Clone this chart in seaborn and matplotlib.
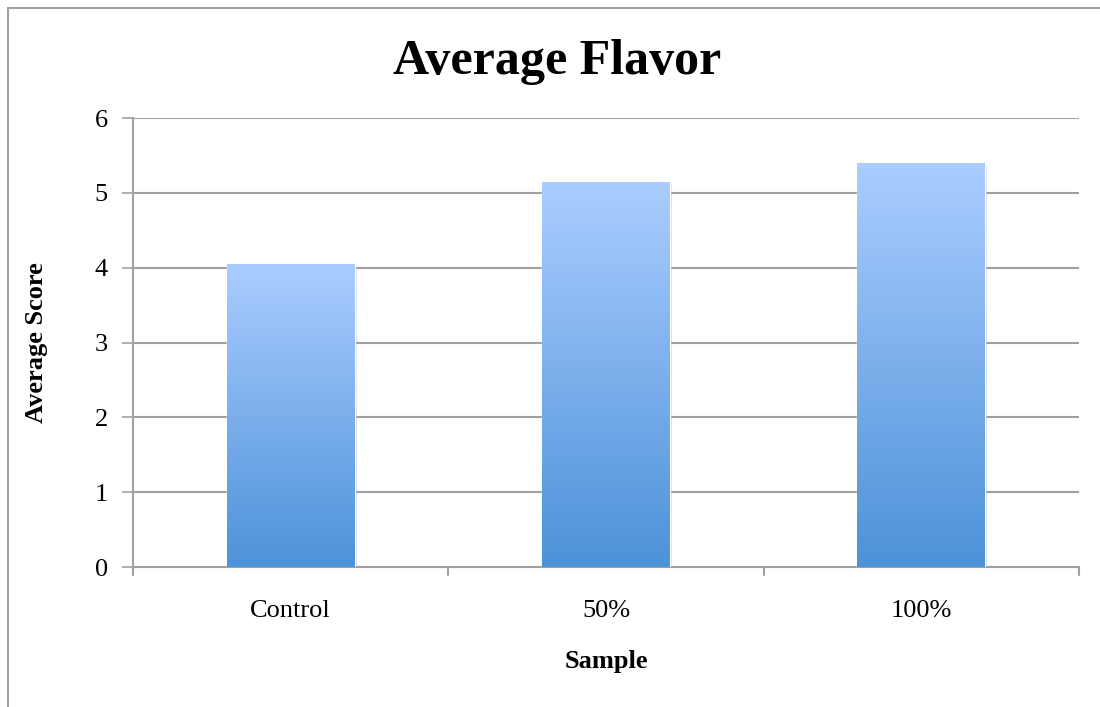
import numpy as np
import pandas as pd
import matplotlib
matplotlib.use("Agg")
import matplotlib.pyplot as plt
import matplotlib.patheffects as pe
from matplotlib.colors import LinearSegmentedColormap
from matplotlib.lines import Line2D
import seaborn as sns

# Data
samples = ["Control", "50%", "100%"]
avg_scores = [4.05, 5.15, 5.40]
y_ticks = [0, 1, 2, 3, 4, 5, 6]

df = pd.DataFrame({"Sample": samples, "Average Score": avg_scores})

sns.set_theme(style="white")
plt.rcParams["font.family"] = ["Liberation Serif", "DejaVu Serif"]
plt.rcParams["text.color"] = "black"
plt.rcParams["xtick.color"] = "black"
plt.rcParams["ytick.color"] = "black"
plt.rcParams["axes.labelcolor"] = "black"

W, H = 1100, 707
fig = plt.figure(figsize=(W / 100, H / 100), dpi=100)
ax = fig.add_axes([133 / W, 1 - 567 / H, (1079 - 133) / W, (567 - 118) / H])

sns.barplot(data=df, x="Sample", y="Average Score", ax=ax, width=0.405,
            color="#7fb0ec", saturation=1, zorder=3)

ax.set_ylim(0, 6)
ax.set_xlim(-0.5, 2.5)
ax.set_yticks(y_ticks)
ax.set_yticklabels([str(t) for t in y_ticks], fontsize=19)
ax.tick_params(axis="x", labelsize=19, length=0, pad=24)
ax.tick_params(axis="y", length=8, width=1.2, color="#a0a0a0", pad=10,
               direction="out", left=True, labelcolor="black")

# gridlines
for t in y_ticks[1:]:
    ax.axhline(t, color="#a0a0a0", lw=1.5, zorder=1)

for s in ["top", "right"]:
    ax.spines[s].set_visible(False)
for s in ["left", "bottom"]:
    ax.spines[s].set_color("#a0a0a0")
    ax.spines[s].set_linewidth(1.5)

# category boundary ticks below the x axis
for xb in [-0.5, 0.5, 1.5, 2.5]:
    ax.add_line(Line2D([xb, xb], [0, -0.11], color="#a0a0a0", lw=1.5,
                       clip_on=False, zorder=2))

# vertical gradient fill for each bar, plus a soft shadow
cmap = LinearSegmentedColormap.from_list("bar_grad", ["#4d92d9", "#abcdff"])
grad = np.linspace(0, 1, 256).reshape(-1, 1)
for patch in ax.patches:
    x0, y0 = patch.get_x(), patch.get_y()
    w, h = patch.get_width(), patch.get_height()
    patch.set_path_effects([pe.SimplePatchShadow(offset=(1.5, -1.5),
                                                 shadow_rgbFace="#999999",
                                                 alpha=0.35),
                            pe.Normal()])
    im = ax.imshow(grad, extent=[x0, x0 + w, y0, y0 + h], origin="lower",
                   cmap=cmap, aspect="auto", zorder=4)
    im.set_clip_path(patch)

ax.set_xlim(-0.5, 2.5)
ax.set_ylim(0, 6)

ax.set_xlabel("Sample", fontsize=19, fontweight="bold", labelpad=20)
ax.set_ylabel("Average Score", fontsize=19, fontweight="bold", labelpad=34)

fig.text(557 / W, 1 - 62 / H, "Average Flavor", ha="center", va="center",
         fontsize=36, fontweight="bold", color="black")

# outer chart frame
fig.add_artist(Line2D([7.5 / W, 7.5 / W], [1 - 7.5 / H, 0], color="#a0a0a0",
                      lw=1.5, transform=fig.transFigure))
fig.add_artist(Line2D([7.5 / W, 1], [1 - 7.5 / H, 1 - 7.5 / H],
                      color="#a0a0a0", lw=1.5, transform=fig.transFigure))

fig.savefig("out.png", dpi=100, facecolor="white")
